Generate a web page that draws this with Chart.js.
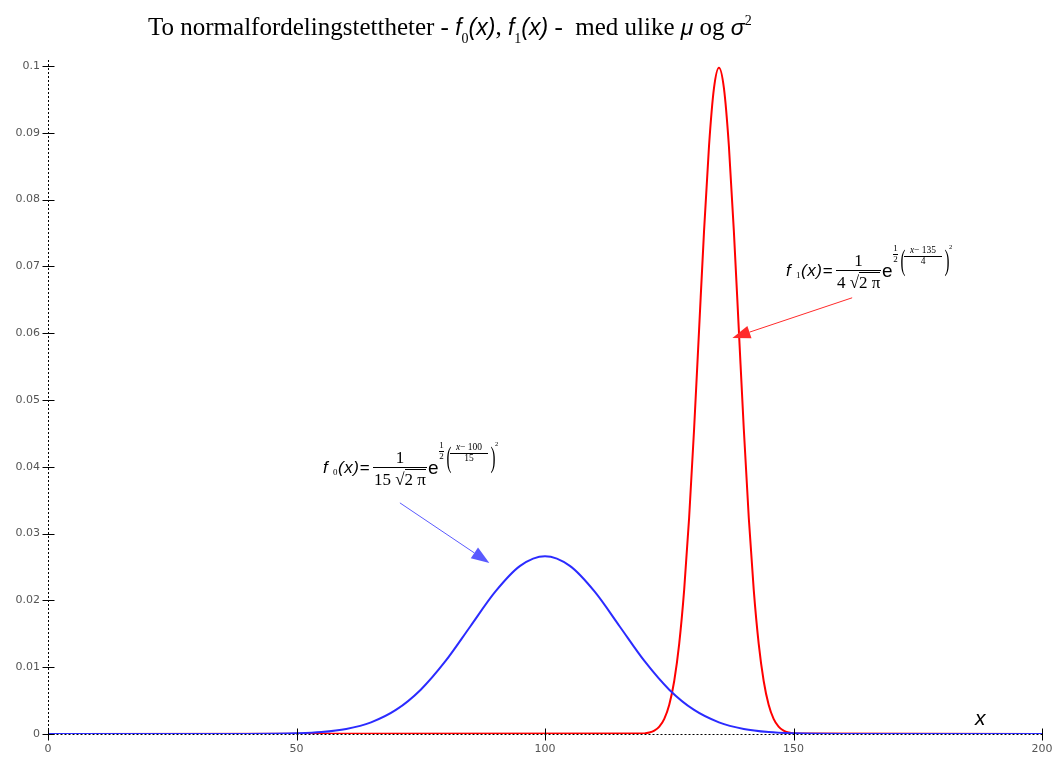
<!DOCTYPE html>
<html><head><meta charset="utf-8">
<script src="https://cdn.jsdelivr.net/npm/chart.js@4/dist/chart.umd.min.js"></script>
<style>
html,body{margin:0;padding:0;background:#fff}
#wrap{position:relative;width:1058px;height:757px;overflow:hidden}
#c{position:absolute;left:0;top:0}
.ttl{position:absolute;left:148px;top:13px;font-family:"Liberation Serif","Times New Roman",serif;font-size:25px;line-height:28px;white-space:nowrap;color:#000}
.sf{font-family:"Liberation Sans",Arial,sans-serif;font-style:italic;font-size:23px}
.sub{font-family:"Liberation Serif",serif;font-size:14px;font-style:normal;position:relative;top:8px}
.sup{font-family:"Liberation Serif",serif;font-size:14px;position:relative;top:-10px}
.t{position:absolute;white-space:nowrap;line-height:1;color:#000}
.hl{position:absolute;height:1px;background:#000}
.ovl{border-top:1px solid #000}
</style></head>
<body>
<div id="wrap">
<canvas id="c" width="1058" height="757"></canvas>
<div class="ttl">To normalfordelingstettheter - <span class="sf">f</span><span class="sub">0</span><span class="sf">(x)</span>, <span class="sf">f</span><span class="sub">1</span><span class="sf">(x)</span> -&nbsp; med ulike <span class="sf">μ</span> og <span class="sf">σ</span><span class="sup">2</span></div>
<div id="ann"></div>
</div>
<script>
const blueX = [0, 40, 45, 50, 55, 60, 65, 70, 75, 80, 85, 90, 95, 100, 105, 110, 115, 120, 125, 130, 135, 140, 145, 150, 155, 160, 200];
const blueY = [0, 0.0000089, 0.000032, 0.000103, 0.000295, 0.00076, 0.001748, 0.003599, 0.006632, 0.01093, 0.01613, 0.0213, 0.02516, 0.0266, 0.02516, 0.0213, 0.01613, 0.01093, 0.006632, 0.003599, 0.001748, 0.00076, 0.000295, 0.000103, 0.000032, 0.0000089, 0];
const redX = [0, 120, 121, 122, 123, 124, 125, 126, 127, 128, 129, 130, 131, 132, 133, 134, 135, 136, 137, 138, 139, 140, 141, 142, 143, 144, 145, 146, 147, 148, 149, 150, 200];
const redY = [0, 0.000088, 0.000218, 0.000507, 0.001108, 0.002273, 0.004382, 0.007935, 0.0135, 0.02157, 0.03238, 0.04566, 0.06049, 0.07528, 0.08802, 0.09667, 0.09974, 0.09667, 0.08802, 0.07528, 0.06049, 0.04566, 0.03238, 0.02157, 0.0135, 0.007935, 0.004382, 0.002273, 0.001108, 0.000507, 0.000218, 0.000088, 0];
const xTicks = [0, 50, 100, 150, 200];
const yTicks = [0, 0.01, 0.02, 0.03, 0.04, 0.05, 0.06, 0.07, 0.08, 0.09, 0.1];
// arrows [fromX, fromY, toX, toY] in data units
const blueArrow = [70.8, 0.0346, 88.8, 0.0256];
const redArrow = [161.8, 0.0653, 137.7, 0.0593];
// formula annotation texts
const f0Text = {name: 'f', sub: '0', k: '15', mu: '100', sd: '15'};
const f1Text = {name: 'f', sub: '1', k: '4', mu: '135', sd: '4'};

// ---- formula annotations (HTML text) ----
const SANS = '"Liberation Sans", Arial, sans-serif', SERIF = '"Liberation Serif", "Times New Roman", serif';
const ann = document.getElementById('ann');
function txt(s, x, base, size, fam, opt) {
  opt = opt || {};
  const d = document.createElement('div');
  d.className = 't';
  if (opt.html) d.innerHTML = s; else d.textContent = s;
  d.style.fontFamily = fam;
  d.style.fontSize = size + 'px';
  if (opt.italic) d.style.fontStyle = 'italic';
  if (opt.ls) d.style.letterSpacing = opt.ls + 'px';
  let tr = '';
  if (opt.center) tr += 'translateX(-50%) ';
  if (opt.sx) tr += 'scaleX(' + opt.sx + ') ';
  if (tr) d.style.transform = tr;
  d.style.left = x + 'px';
  d.style.top = (base - (fam === SANS ? 0.846 : 0.837) * size) + 'px';
  ann.appendChild(d);
  return d;
}
function hl(x1, x2, y) {
  const d = document.createElement('div');
  d.className = 'hl';
  d.style.left = x1 + 'px'; d.style.width = (x2 - x1) + 'px'; d.style.top = y + 'px';
  ann.appendChild(d);
}
function formula(t, x, b) {
  txt(t.name, x, b, 17, SANS, {italic: true});
  txt(t.sub, x + 10, b + 3, 9, SERIF);
  txt('(x)=', x + 15, b, 17, SANS, {italic: true, ls: 0.6});
  const fl = x + 50;
  const den = txt(t.k + ' √<span class="ovl">2 π</span>', fl + 1, b + 12, 17, SERIF, {html: true});
  const w = den.offsetWidth;
  const fr = fl + w + 2;
  hl(fl, fr, b - 6);
  txt('1', (fl + fr) / 2, b - 10, 17, SERIF, {center: true});
  const ex = fr + 1;
  txt('e', ex, b + 1, 19, SANS);
  txt('1', ex + 13.5, b - 24, 9, SERIF, {center: true});
  hl(ex + 11, ex + 16, b - 22);
  txt('2', ex + 13.5, b - 13, 9, SERIF, {center: true});
  txt('(', ex + 16, b - 6, 30, SERIF, {sx: 0.5});
  const inW = 38;
  txt('<i>x</i>− ' + t.mu, ex + 22 + inW / 2, b - 22, 9.5, SERIF, {center: true, html: true});
  hl(ex + 22, ex + 22 + inW, b - 20);
  txt(t.sd, ex + 22 + inW / 2, b - 11, 9.5, SERIF, {center: true});
  txt(')', ex + 22 + inW, b - 6, 30, SERIF, {sx: 0.5});
  txt('2', ex + 29 + inW, b - 27, 6.5, SERIF);
}
formula(f0Text, 323, 473);
formula(f1Text, 786, 276);
txt('x', 975, 725, 21, SANS, {italic: true});

const pts = (xs, ys) => xs.map((x, i) => ({x: x, y: ys[i]}));

const axesPlugin = {
  id: 'axesPlugin',
  afterDatasetsDraw(chart) {
    const {ctx, scales: {x, y}} = chart;
    const y0 = Math.round(y.getPixelForValue(0)) + 0.5, x0 = Math.round(x.getPixelForValue(0)) + 0.5;
    const yTop = y.getPixelForValue(0.1) - 6, xR = x.getPixelForValue(200);
    ctx.save();
    ctx.strokeStyle = '#000';
    ctx.lineWidth = 1;
    ctx.setLineDash([2, 2]);
    ctx.beginPath();
    ctx.moveTo(x0, yTop); ctx.lineTo(x0, y0);
    ctx.moveTo(x0, y0); ctx.lineTo(xR, y0);
    ctx.stroke();
    ctx.setLineDash([]);
    ctx.beginPath();
    yTicks.forEach(v => { const p = Math.round(y.getPixelForValue(v)) + 0.5; ctx.moveTo(x0 - 6, p); ctx.lineTo(x0 + 6, p); });
    xTicks.forEach(v => { const p = Math.round(x.getPixelForValue(v)) + 0.5; ctx.moveTo(p, y0 - 6); ctx.lineTo(p, y0 + 6); });
    ctx.stroke();
    const arrow = (a, col) => {
      const fx = x.getPixelForValue(a[0]), fy = y.getPixelForValue(a[1]);
      const tx = x.getPixelForValue(a[2]), ty = y.getPixelForValue(a[3]);
      const ang = Math.atan2(ty - fy, tx - fx);
      const L = 18, W = 6.5;
      const bx = tx - L * Math.cos(ang), by = ty - L * Math.sin(ang);
      ctx.strokeStyle = col; ctx.fillStyle = col; ctx.lineWidth = 1;
      ctx.beginPath(); ctx.moveTo(fx, fy); ctx.lineTo(bx, by); ctx.stroke();
      ctx.beginPath(); ctx.moveTo(tx, ty);
      ctx.lineTo(bx + W * Math.sin(ang), by - W * Math.cos(ang));
      ctx.lineTo(bx - W * Math.sin(ang), by + W * Math.cos(ang));
      ctx.closePath(); ctx.fill();
    };
    arrow(blueArrow, '#5a5aff');
    arrow(redArrow, '#ff2a2a');
    ctx.restore();
  }
};

const tickFont = {family: '"DejaVu Sans", Verdana, sans-serif', size: 11};
new Chart(document.getElementById('c'), {
  type: 'line',
  data: {
    datasets: [
      {label: 'f0', data: pts(blueX, blueY), borderColor: '#2b2bff', borderWidth: 2, pointRadius: 0, cubicInterpolationMode: 'monotone', fill: false},
      {label: 'f1', data: pts(redX, redY), borderColor: '#ff0000', borderWidth: 2, pointRadius: 0, cubicInterpolationMode: 'monotone', fill: false}
    ]
  },
  options: {
    responsive: false,
    animation: false,
    layout: {autoPadding: false, padding: {left: 0, top: 66, right: 16, bottom: 0}},
    plugins: {legend: {display: false}, tooltip: {enabled: false}, title: {display: false}},
    scales: {
      x: {
        type: 'linear', min: 0, max: 200,
        afterBuildTicks: s => { s.ticks = xTicks.map(v => ({value: v})); },
        afterFit: s => { s.height = 23; s.paddingLeft = 0; s.paddingRight = 0; },
        grid: {display: false, drawTicks: false, tickLength: 0},
        border: {display: false},
        ticks: {padding: 9, color: '#555', font: tickFont, maxRotation: 0, autoSkip: false, callback: v => String(v)}
      },
      y: {
        type: 'linear', min: 0, max: 0.1,
        afterBuildTicks: s => { s.ticks = yTicks.map(v => ({value: v})); },
        afterFit: s => { s.width = 48; s.paddingTop = 0; s.paddingBottom = 0; },
        grid: {display: false, drawTicks: false, tickLength: 0},
        border: {display: false},
        ticks: {padding: 8, color: '#555', font: tickFont, autoSkip: false, callback: v => String(Number(v.toFixed(2)))}
      }
    }
  },
  plugins: [axesPlugin]
});
</script>
</body></html>
